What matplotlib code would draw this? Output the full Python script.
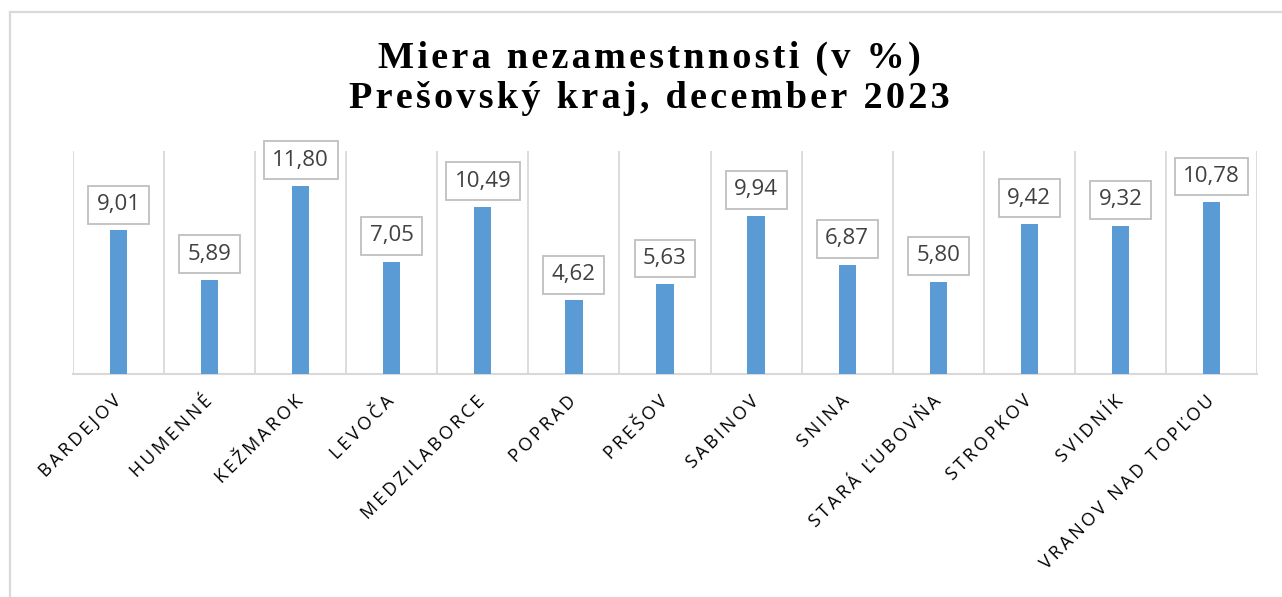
import matplotlib
matplotlib.use("Agg")
import matplotlib.pyplot as plt
import matplotlib.transforms as mtransforms
from matplotlib.lines import Line2D

# data
okresy = ["BARDEJOV", "HUMENNÉ", "KEŽMAROK", "LEVOČA", "MEDZILABORCE", "POPRAD",
          "PREŠOV", "SABINOV", "SNINA", "STARÁ ĽUBOVŇA", "STROPKOV", "SVIDNÍK",
          "VRANOV NAD TOPĽOU"]
miera = [9.01, 5.89, 11.80, 7.05, 10.49, 4.62, 5.63, 9.94, 6.87, 5.80, 9.42, 9.32, 10.78]
title_lines = ["Miera nezamestnnosti (v %)", "Prešovský kraj, december 2023"]

BAR = "#5B9BD5"
GRID = "#D9D9D9"
TXT = "#404040"


def spaced(s, sep="\u2009"):
    # fake letter spacing
    return sep.join(s)


fig = plt.figure(figsize=(12.82, 5.97), dpi=100)
ax = fig.add_axes([73 / 1282, 1 - 374 / 597, (1257 - 73) / 1282, (374 - 151) / 597])

x = list(range(len(okresy)))
bars = ax.bar(x, miera, width=0.19, color=BAR, zorder=3)

ax.set_xlim(-0.5, len(okresy) - 0.5)
ax.set_ylim(0, 14)
ax.set_yticks([])
for k in range(len(okresy) + 1):
    ax.axvline(k - 0.5, color=GRID, lw=1.3, zorder=1)
for side in ["top", "left", "right"]:
    ax.spines[side].set_visible(False)
ax.spines["bottom"].set_color(GRID)
ax.spines["bottom"].set_linewidth(1.5)

ax.set_xticks(x)
ax.set_xticklabels([spaced(o) for o in okresy], rotation=45, ha="right", va="top",
                   fontsize=13, color="black", family=["Open Sans", "DejaVu Sans"])
ax.tick_params(axis="x", length=0, pad=13)
shift = mtransforms.ScaledTranslation(6 / 100, 0, fig.dpi_scale_trans)
for lab in ax.get_xticklabels():
    lab.set_transform(lab.get_transform() + shift)

for xi, v in zip(x, miera):
    ax.annotate(f"{v:.2f}".replace(".", ","), (xi, v), xytext=(0, 11),
                textcoords="offset points", ha="center", va="bottom",
                fontsize=16, color=TXT, family="Open Sans",
                bbox=dict(boxstyle="square,pad=0.38", fc="white", ec="#BFBFBF", lw=1.3))

tfont = dict(family=["Liberation Serif", "DejaVu Serif"], fontweight="bold",
             fontsize=27.5, ha="center", va="baseline", color="black")
fig.text(649 / 1282, 1 - 68 / 597, spaced(title_lines[0], "\u200a"), **tfont)
fig.text(649 / 1282, 1 - 108 / 597, spaced(title_lines[1], "\u200a"), **tfont)

# outer chart frame (only the left and top edges are visible)
fig.add_artist(Line2D([9.5 / 1282, 9.5 / 1282], [0, 1 - 11.5 / 597], color=GRID, lw=1.6))
fig.add_artist(Line2D([9.5 / 1282, 1], [1 - 11.5 / 597, 1 - 11.5 / 597], color=GRID, lw=1.6))

fig.savefig("out.png", dpi=100)
